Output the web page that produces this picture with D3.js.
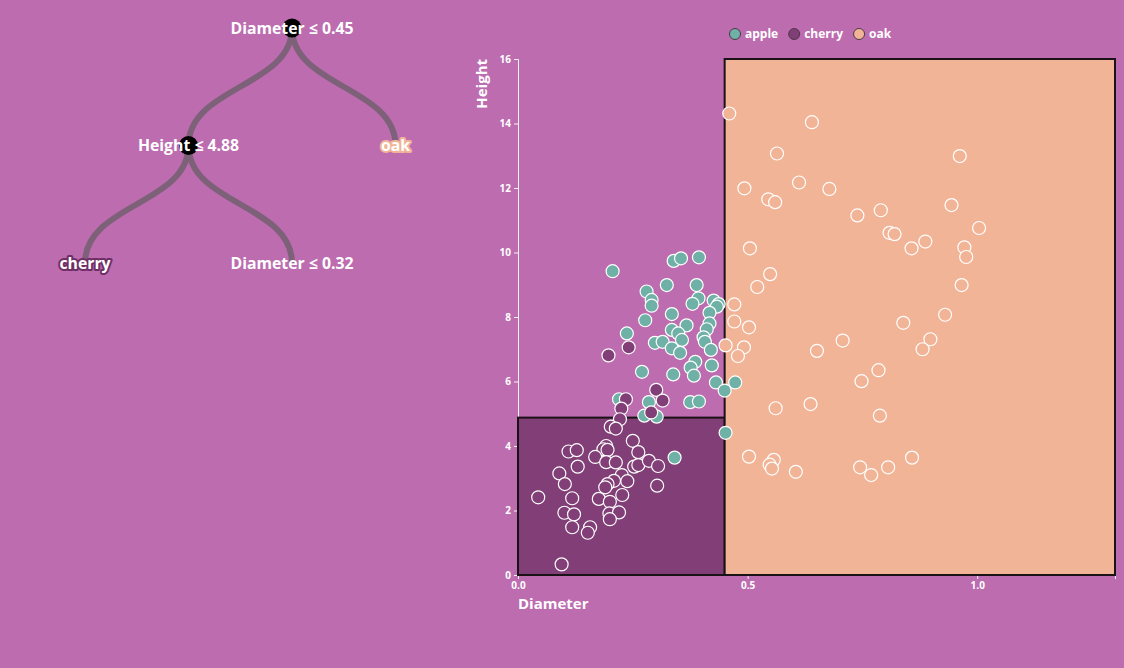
<!DOCTYPE html>
<html>
<head>
<meta charset="utf-8">
<script src="https://cdn.jsdelivr.net/npm/d3@7"></script>
<style>
  html, body { margin: 0; padding: 0; background: #bc6caf; }
  svg { display: block; font-family: "Open Sans", Lato, sans-serif; font-weight: 700; }
</style>
</head>
<body>
<svg id="chart" width="1124" height="668"></svg>
<script>
// Tree structure (flat, built with stratify)
const treeIds = ['root', 'h488', 'oak', 'cherry', 'd032'];
const treeParents = ['', 'root', 'root', 'h488', 'h488'];
const treeLabels = ['Diameter ≤ 0.45', 'Height ≤ 4.88', 'oak', 'cherry', 'Diameter ≤ 0.32'];
const treeLeafClass = [null, null, 'oak', 'cherry', null];

// Species and colours
const species = ['apple', 'cherry', 'oak'];
const speciesColors = ['#6fb1a7', '#813e77', '#f2b496'];
const labelStroke = { oak: '#f2b496', cherry: '#6e2e66' };

// Decision regions
const regionX = [[0, 0.45], [0.45, 1.3]];
const regionY = [[0, 4.88], [0, 16]];
const regionClass = ['cherry', 'oak'];

const xTicks = [0, 0.5, 1.0];

// Points [diameter, height]
const applePoints = [
  [0.206, 9.42], [0.339, 9.74], [0.355, 9.82], [0.394, 9.85], [0.324, 8.99], [0.389, 8.99],
  [0.280, 8.79], [0.291, 8.53], [0.291, 8.35], [0.393, 8.58], [0.380, 8.41], [0.426, 8.51],
  [0.437, 8.40], [0.433, 8.32], [0.417, 8.13], [0.335, 8.09], [0.277, 7.90], [0.417, 7.80],
  [0.367, 7.74], [0.411, 7.62], [0.335, 7.60], [0.349, 7.49], [0.357, 7.29], [0.404, 7.37],
  [0.407, 7.23], [0.237, 7.49], [0.298, 7.20], [0.315, 7.23], [0.335, 7.03], [0.353, 6.89],
  [0.420, 6.98], [0.386, 6.61], [0.376, 6.43], [0.383, 6.18], [0.422, 6.50], [0.270, 6.30],
  [0.338, 6.22], [0.431, 5.97], [0.450, 5.72], [0.473, 5.97], [0.220, 5.45], [0.285, 5.36],
  [0.375, 5.36], [0.394, 5.38], [0.275, 4.94], [0.302, 4.91], [0.452, 4.41], [0.341, 3.64]
];
const cherryPoints = [
  [0.197, 6.81], [0.241, 7.06], [0.301, 5.74], [0.315, 5.41], [0.235, 5.45], [0.225, 5.16],
  [0.290, 5.04], [0.222, 4.83], [0.202, 4.60], [0.213, 4.54], [0.110, 3.83], [0.128, 3.87],
  [0.192, 4.00], [0.186, 3.90], [0.195, 3.88], [0.250, 4.16], [0.262, 3.81], [0.168, 3.66],
  [0.192, 3.50], [0.213, 3.49], [0.130, 3.36], [0.253, 3.36], [0.262, 3.41], [0.285, 3.54],
  [0.305, 3.38], [0.090, 3.15], [0.102, 2.82], [0.226, 3.10], [0.238, 2.91], [0.209, 2.92],
  [0.195, 2.82], [0.190, 2.72], [0.303, 2.77], [0.044, 2.41], [0.118, 2.38], [0.176, 2.36],
  [0.200, 2.27], [0.227, 2.48], [0.101, 1.93], [0.122, 1.88], [0.199, 1.91], [0.220, 1.94],
  [0.200, 1.73], [0.118, 1.48], [0.157, 1.48], [0.152, 1.31], [0.095, 0.33]
];
const oakPoints = [
  [0.460, 14.31], [0.640, 14.04], [0.564, 13.07], [0.962, 12.99], [0.493, 11.99], [0.612, 12.17],
  [0.678, 11.97], [0.545, 11.65], [0.560, 11.56], [0.739, 11.15], [0.790, 11.31], [0.944, 11.47],
  [1.004, 10.76], [0.809, 10.61], [0.820, 10.57], [0.857, 10.13], [0.887, 10.34], [0.972, 10.16],
  [0.976, 9.86], [0.505, 10.13], [0.549, 9.33], [0.521, 8.93], [0.966, 8.99], [0.930, 8.07],
  [0.839, 7.82], [0.471, 8.39], [0.471, 7.86], [0.503, 7.68], [0.707, 7.27], [0.898, 7.31],
  [0.881, 7.00], [0.651, 6.95], [0.452, 7.12], [0.492, 7.06], [0.479, 6.79], [0.785, 6.35],
  [0.748, 6.01], [0.561, 5.17], [0.637, 5.30], [0.788, 4.94], [0.503, 3.67], [0.557, 3.57],
  [0.548, 3.42], [0.553, 3.30], [0.605, 3.20], [0.745, 3.34], [0.769, 3.10], [0.806, 3.34],
  [0.858, 3.64]
];

const svg = d3.select('#chart');
const color = d3.scaleOrdinal().domain(species).range(speciesColors);

// ---- Tree ----
function drawTree() {
  const table = treeIds.map((id, i) => ({
    id, parentId: treeParents[i] || null, label: treeLabels[i], leaf: treeLeafClass[i]
  }));
  const root = d3.stratify().id(d => d.id).parentId(d => d.parentId)(table);
  d3.tree().nodeSize([207, 117.5])(root);

  const g = svg.append('g').attr('transform', 'translate(292,28)');

  g.selectAll('.link')
    .data(root.links())
    .enter()
    .append('path')
    .attr('class', 'link')
    .attr('d', d3.linkVertical().x(d => d.x).y(d => d.y))
    .style('fill', 'none')
    .style('stroke', '#7d6178')
    .style('stroke-width', 6);

  const node = g.selectAll('.node')
    .data(root.descendants())
    .enter()
    .append('g')
    .attr('class', 'node')
    .attr('transform', d => `translate(${d.x},${d.y})`);

  node.filter(d => d.children)
    .append('circle')
    .attr('r', 9.5)
    .style('fill', '#000');

  node.append('text')
    .attr('dy', '0.35em')
    .style('text-anchor', 'middle')
    .style('font-size', '15.8px')
    .style('fill', '#fff')
    .style('paint-order', 'stroke')
    .style('stroke', d => d.data.leaf ? labelStroke[d.data.leaf] : 'none')
    .style('stroke-width', 4)
    .style('stroke-linejoin', 'round')
    .text(d => d.data.label);
}

// ---- Scatter ----
function drawScatter() {
  const left = 518, right = 1115, top = 59, bottom = 575;
  const x = d3.scaleLinear().domain([0, 1.3]).range([left, right]);
  const y = d3.scaleLinear().domain([0, 16]).range([bottom, top]);

  // axes
  const yAxis = svg.append('g')
    .attr('transform', `translate(${left},0)`)
    .call(d3.axisLeft(y).tickSize(4));
  const xAxis = svg.append('g')
    .attr('transform', `translate(0,${bottom})`)
    .call(d3.axisBottom(x).tickValues(xTicks).tickFormat(d3.format('.1f')).tickSize(4));
  [xAxis, yAxis].forEach(a => {
    a.selectAll('path, line').style('stroke', '#f4f4f4');
    a.selectAll('text').style('fill', '#fff').style('font-size', '10px').style('font-weight', 700)
      .style('font-family', '"Open Sans", sans-serif');
  });

  // regions
  svg.append('g')
    .selectAll('rect')
    .data(regionClass.map((c, i) => ({ c, xs: regionX[i], ys: regionY[i] })))
    .enter()
    .append('rect')
    .attr('x', d => x(d.xs[0]))
    .attr('y', d => y(d.ys[1]))
    .attr('width', d => x(d.xs[1]) - x(d.xs[0]))
    .attr('height', d => y(d.ys[0]) - y(d.ys[1]))
    .style('fill', d => color(d.c))
    .style('stroke', '#1b1218')
    .style('stroke-width', 2);

  // points
  const pts = [];
  applePoints.forEach(p => pts.push({ d: p[0], h: p[1], s: 'apple' }));
  cherryPoints.forEach(p => pts.push({ d: p[0], h: p[1], s: 'cherry' }));
  oakPoints.forEach(p => pts.push({ d: p[0], h: p[1], s: 'oak' }));

  svg.append('g')
    .selectAll('circle')
    .data(pts)
    .enter()
    .append('circle')
    .attr('cx', d => x(d.d))
    .attr('cy', d => y(d.h))
    .attr('r', 6.5)
    .style('fill', d => color(d.s))
    .style('stroke', '#fff')
    .style('stroke-width', 1.2);

  // axis titles
  svg.append('text')
    .attr('x', left)
    .attr('y', 609)
    .style('fill', '#fff')
    .style('font-size', '15px')
    .text('Diameter');
  svg.append('text')
    .attr('transform', `translate(487,${top}) rotate(-90)`)
    .style('text-anchor', 'end')
    .style('fill', '#fff')
    .style('font-size', '15px')
    .text('Height');

  // legend
  const legend = svg.append('g').attr('transform', 'translate(735,34)');
  let cx = 0;
  species.forEach(s => {
    const item = legend.append('g').attr('transform', `translate(${cx},0)`);
    item.append('circle')
      .attr('r', 5.5)
      .style('fill', color(s))
      .style('stroke', '#4a3a46')
      .style('stroke-width', 1);
    const t = item.append('text')
      .attr('x', 10)
      .attr('dy', '0.35em')
      .style('fill', '#fff')
      .style('font-size', '12px')
      .text(s);
    cx += 10 + t.node().getComputedTextLength() + 16;
  });
}

drawTree();
drawScatter();
</script>
</body>
</html>
